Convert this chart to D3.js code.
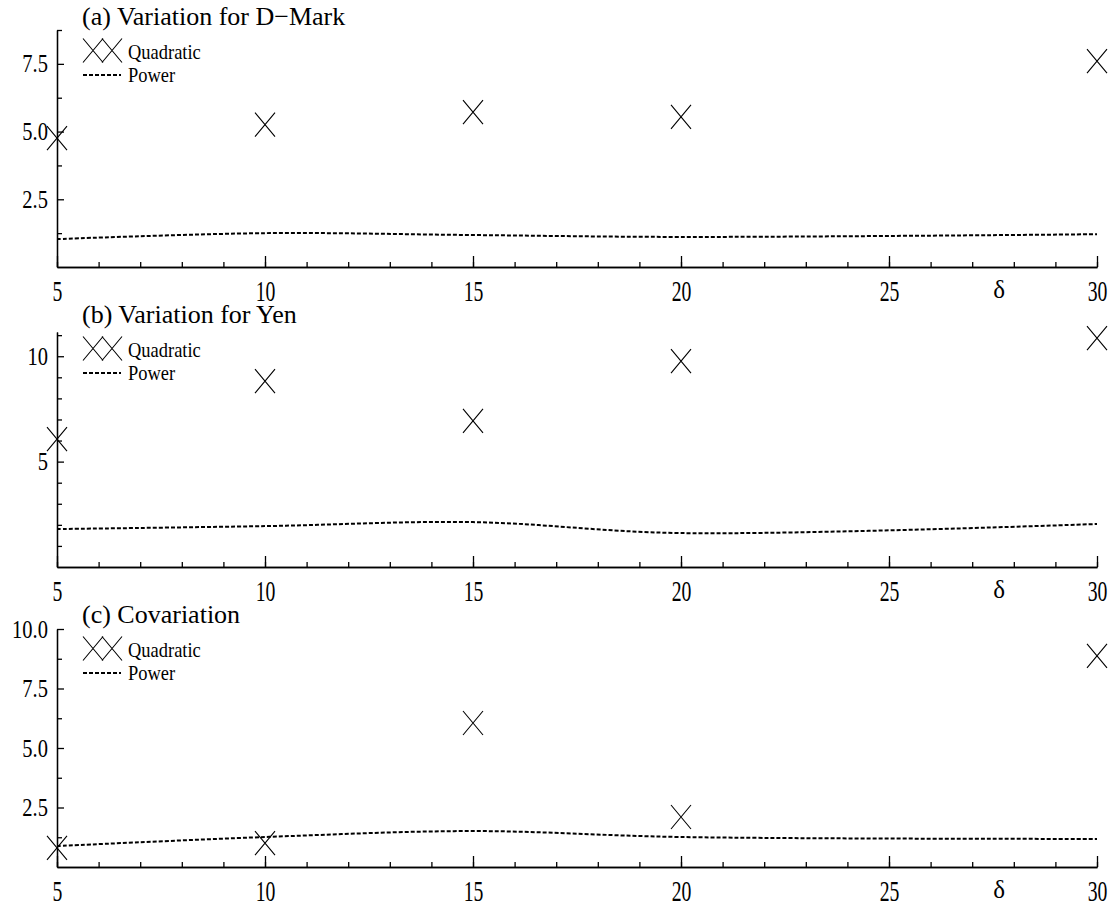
<!DOCTYPE html>
<html>
<head>
<meta charset="utf-8">
<script src="https://cdn.jsdelivr.net/npm/d3@7"></script>
<style>
  body { margin: 0; background: #fff; }
  svg text { font-family: "Liberation Serif", "Times New Roman", Times, serif; fill: #000; }
</style>
</head>
<body>
<div id="chart"></div>
<script>
// x values (delta) shared by every panel
var deltas = [5, 10, 15, 20, 30];

var quadA  = [4.76, 5.26, 5.72, 5.54, 7.60];
var powerA = [1.03, 1.25, 1.18, 1.11, 1.21];

var quadB  = [6.07, 8.82, 6.93, 9.77, 10.86];
var powerB = [1.80, 1.94, 2.13, 1.61, 2.04];

var quadC  = [0.80, 1.00, 6.05, 2.10, 8.87];
var powerC = [0.88, 1.26, 1.51, 1.26, 1.18];

var titles = ["(a) Variation for D\u2212Mark", "(b) Variation for Yen", "(c) Covariation"];
var legendNames = ["Quadratic", "Power"];

var xMajor = [5, 10, 15, 20, 25, 30];
var xMinor = d3.range(5, 31);

var yMajorA = [2.5, 5, 7.5],     yMinorA = [1.25, 3.75, 6.25, 8.75];
var yMajorB = [5, 10],           yMinorB = [1, 2, 3, 4, 6, 7, 8, 9, 11];
var yMajorC = [2.5, 5, 7.5, 10], yMinorC = [1.25, 3.75, 6.25, 8.75];

var width = 1115, height = 911;
var left = 57, right = 1097;
var serif = "Liberation Serif, Times New Roman, Times, serif";

var panels = [
  { top: 30,  bottom: 267, yMax: 8.75,  title: titles[0], titleY: 25,  quad: quadA, power: powerA, major: yMajorA, minor: yMinorA, fmt: d3.format(".1f") },
  { top: 332, bottom: 567, yMax: 11.15, title: titles[1], titleY: 323, quad: quadB, power: powerB, major: yMajorB, minor: yMinorB, fmt: d3.format("d") },
  { top: 629, bottom: 867, yMax: 10,    title: titles[2], titleY: 623, quad: quadC, power: powerC, major: yMajorC, minor: yMinorC, fmt: d3.format(".1f") }
];

var svg = d3.select("#chart").append("svg")
  .attr("width", width)
  .attr("height", height)
  .attr("font-family", serif);

var x = d3.scaleLinear().domain([5, 30]).range([left, right]);

var cross = "M-10,-12L10,12M-10,12L10,-12";

panels.forEach(function(p) {
  var y = d3.scaleLinear().domain([0, p.yMax]).range([p.bottom, p.top]);
  var g = svg.append("g");

  // x axis, minor then major ticks pointing up
  g.append("g")
    .attr("transform", "translate(0," + p.bottom + ")")
    .call(d3.axisBottom(x).tickValues(xMinor).tickFormat("").tickSizeInner(-5).tickSizeOuter(0));
  var xa = g.append("g")
    .attr("transform", "translate(0," + p.bottom + ")")
    .call(d3.axisBottom(x).tickValues(xMajor).tickFormat(d3.format("d"))
      .tickSizeInner(-11).tickSizeOuter(0).tickPadding(13));
  xa.selectAll("text")
    .attr("font-size", 29)
    .attr("transform", "scale(0.68,1)");

  // y axis, ticks pointing right
  g.append("g")
    .attr("transform", "translate(" + left + ",0)")
    .call(d3.axisLeft(y).tickValues(p.minor).tickFormat("").tickSizeInner(-5).tickSizeOuter(0));
  var ya = g.append("g")
    .attr("transform", "translate(" + left + ",0)")
    .call(d3.axisLeft(y).tickValues(p.major).tickFormat(p.fmt)
      .tickSizeInner(-7).tickSizeOuter(0).tickPadding(11));
  ya.selectAll("text")
    .attr("font-size", 25)
    .attr("transform", "scale(0.82,1)");

  g.selectAll("g").attr("font-family", serif);
  g.selectAll(".domain, .tick line")
    .attr("stroke", "#000")
    .attr("stroke-width", 1.3);
  g.selectAll(".domain").attr("fill", "none");

  // delta label
  g.append("text")
    .attr("x", x(27.65))
    .attr("y", p.bottom + 31)
    .attr("text-anchor", "middle")
    .attr("font-size", 25)
    .text("\u03b4");

  // power series
  var line = d3.line()
    .x(function(d, i) { return x(deltas[i]); })
    .y(function(d) { return y(d); })
    .curve(d3.curveCatmullRom);

  g.append("path")
    .datum(p.power)
    .attr("fill", "none")
    .attr("stroke", "#000")
    .attr("stroke-width", 2)
    .attr("stroke-dasharray", "4,2")
    .attr("d", line);

  // quadratic markers
  g.selectAll(".quad")
    .data(p.quad)
    .enter().append("path")
    .attr("class", "quad")
    .attr("transform", function(d, i) { return "translate(" + x(deltas[i]) + "," + y(d) + ")"; })
    .attr("d", cross)
    .attr("fill", "none")
    .attr("stroke", "#000")
    .attr("stroke-width", 1.1);

  // title
  g.append("text")
    .attr("x", 82)
    .attr("y", p.titleY)
    .attr("font-size", 26)
    .text(p.title);

  // legend
  var lq = p.titleY + 34, lp = p.titleY + 57;
  [93, 112].forEach(function(cx) {
    g.append("path")
      .attr("transform", "translate(" + cx + "," + (lq - 8.5) + ")")
      .attr("d", cross)
      .attr("fill", "none")
      .attr("stroke", "#000")
      .attr("stroke-width", 1.1);
  });
  g.append("line")
    .attr("x1", 83).attr("x2", 121)
    .attr("y1", lp - 7).attr("y2", lp - 7)
    .attr("stroke", "#000")
    .attr("stroke-width", 2)
    .attr("stroke-dasharray", "4,2");

  g.selectAll(".legtext")
    .data(legendNames)
    .enter().append("text")
    .attr("class", "legtext")
    .attr("font-size", 22)
    .attr("transform", function(d, i) { return "translate(128," + (i == 0 ? lq : lp) + ") scale(0.84,1)"; })
    .text(function(d) { return d; });
});
</script>
</body>
</html>
